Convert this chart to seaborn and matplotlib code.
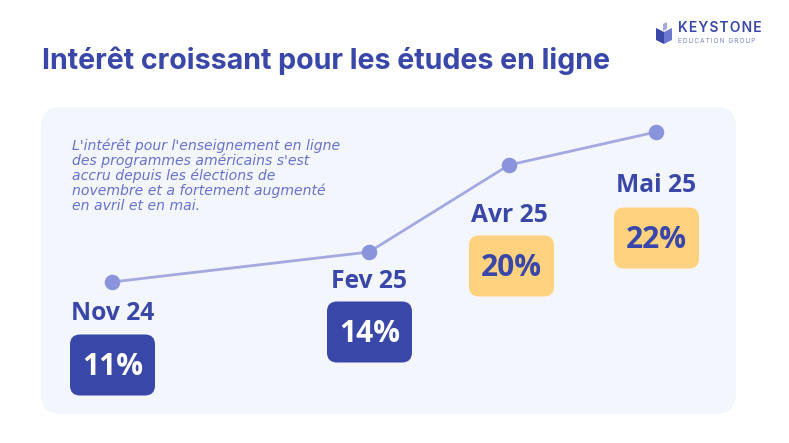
#!/usr/bin/env python3
# -*- coding: utf-8 -*-

"""
Slide: intérêt croissant pour les études en ligne.
"""

import numpy as np
import pandas as pd
import matplotlib
matplotlib.use('Agg')
import matplotlib.pyplot as plt
from matplotlib.patches import FancyBboxPatch, Polygon
import seaborn as sns

# Données
labels = ['Nov 24', 'Fev 25', 'Avr 25', 'Mai 25']
months = [0, 3, 5, 6]
percent = [11, 14, 20, 22]

# Couleurs
DARK = '#3947A8'
YELLOW = '#FFD27F'
PANEL = '#F3F6FD'
LINE = '#A4A9E0'
MARKER = '#8A94DC'
NOTE = '#6872CC'

W, H = 789, 443

# Mise en page : l'axe du graphique est schématique, donc non linéaire
x_anchor = [0.0, 0.4724, 0.7298, 1.0]
y_anchor = [0.0, 0.2, 0.78, 1.0]
label_offset = [32, 30, 50, 54]
box_offset = [83, 80, 101, 106]
box_shift = [0.5, 0.5, 2.5, 0.5]
box_fill = [DARK, DARK, YELLOW, YELLOW]
value_color = ['white', 'white', DARK, DARK]


def piecewise(src, dst):
    """Échelle par morceaux pour les axes du graphique."""
    return (lambda v: np.interp(v, src, dst), lambda v: np.interp(v, dst, src))


sns.set_theme(style='white')
plt.rcParams['font.family'] = ['Open Sans', 'DejaVu Sans']

fig = plt.figure(figsize=(W / 100, H / 100), dpi=100, facecolor='white')

# Fond en coordonnées pixels
bg = fig.add_axes([0, 0, 1, 1], zorder=0)
bg.set_xlim(0, W)
bg.set_ylim(H, 0)
bg.axis('off')
bg.add_patch(FancyBboxPatch((41, 107), 695, 307, boxstyle='round,pad=0,rounding_size=20',
                            facecolor=PANEL, edgecolor='none'))

# Graphique
ax = fig.add_axes([112 / W, (H - 282) / H, (656 - 112) / W, (282 - 132) / H], zorder=1)
ax.patch.set_alpha(0)
ax.set_xscale('function', functions=piecewise(months, x_anchor))
ax.set_yscale('function', functions=piecewise(percent, y_anchor))
ax.set_xlim(months[0], months[-1])
ax.set_ylim(percent[0], percent[-1])

df = pd.DataFrame({'month': months, 'percent': percent})
sns.lineplot(data=df, x='month', y='percent', color=LINE, linewidth=2.0, ax=ax,
             clip_on=False, zorder=2)
sns.scatterplot(data=df, x='month', y='percent', color=MARKER, s=125, linewidth=0, ax=ax,
                clip_on=False, zorder=3)
ax.axis('off')

fig.canvas.draw()
for i, label in enumerate(labels):
    px, py = ax.transData.transform((months[i], percent[i]))
    cx, cy = px + box_shift[i], H - py + box_offset[i]
    bg.add_patch(FancyBboxPatch((cx - 42.5, cy - 30.5), 85, 61,
                                boxstyle='round,pad=0,rounding_size=10',
                                facecolor=box_fill[i], edgecolor='none'))
    ax.annotate(label, (months[i], percent[i]), xytext=(0.5, -label_offset[i]),
                textcoords='offset pixels', ha='center', va='center',
                fontsize=17.7, fontweight='bold', color=DARK, annotation_clip=False)
    ax.annotate(f'{percent[i]}%', (months[i], percent[i]), xytext=(box_shift[i], -box_offset[i] - 2),
                textcoords='offset pixels', ha='center', va='center',
                fontsize=21.5, fontweight='bold', color=value_color[i], annotation_clip=False)

# Titre
fig.text(42 / W, 1 - 61 / H, 'Intérêt croissant pour les études en ligne',
         family=['Inter', 'DejaVu Sans'], fontsize=20.6, fontweight='bold',
         color=DARK, ha='left', va='center')

# Note
note = ["L'intérêt pour l'enseignement en ligne",
        'des programmes américains s\'est',
        'accru depuis les élections de',
        'novembre et a fortement augmenté',
        'en avril et en mai.']
for i, line in enumerate(note):
    fig.text(72 / W, 1 - (146 + i * 15) / H, line, family=['DejaVu Sans'], style='italic',
             fontsize=10.1, color=NOTE, ha='left', va='center')

# Logo
bg.add_patch(Polygon([(656, 28), (664, 32), (664, 44), (656, 40)], facecolor=DARK, edgecolor='none'))
bg.add_patch(Polygon([(664, 32), (672, 28), (672, 40), (664, 44)], facecolor='#6C78D0', edgecolor='none'))
bg.add_patch(Polygon([(663, 24), (667, 22), (667, 29), (663, 31)], facecolor='#A4A9E0', edgecolor='none'))
fig.text(678 / W, 1 - 28.5 / H, '\u200a'.join('KEYSTONE'), family=['Inter', 'DejaVu Sans'], fontsize=10,
         fontweight='semibold', color=DARK, ha='left', va='center')
fig.text(678 / W, 1 - 41 / H, '\u2009'.join('EDUCATION GROUP'), family=['Inter', 'DejaVu Sans'], fontsize=4.6,
         color='#7A82C8', ha='left', va='center')

fig.savefig('out.png', dpi=100)
